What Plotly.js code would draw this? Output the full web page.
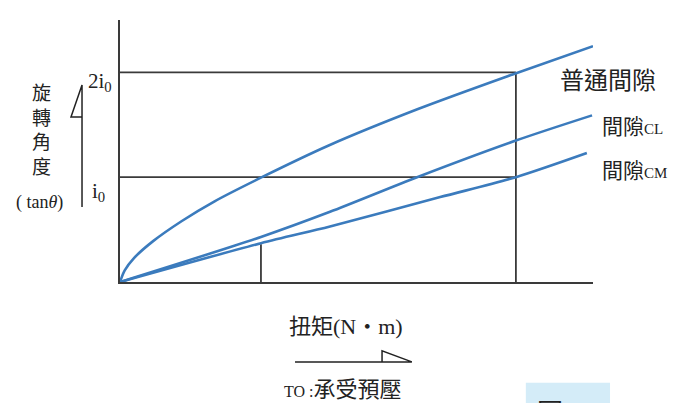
<!DOCTYPE html>
<html>
<head>
<meta charset="utf-8">
<script src="https://cdn.plot.ly/plotly-3.0.1.min.js"></script>
<style>html,body{margin:0;padding:0;background:#fff;}#chart{width:683px;height:403px;}</style>
</head>
<body>
<div id="chart"></div>
<script>
// Torque (arbitrary units) and rotation angle (units of i0)
const torqueNormal = [0, 0.1, 0.3, 0.7, 1.3, 2.0, 3.0, 4.4, 6.3, 8.3, 10.0];
const angleNormal  = [0, 0.11, 0.23, 0.39, 0.58, 0.77, 1.00, 1.30, 1.65, 1.98, 2.25];
const torqueCL = [0, 2.98, 4.44, 6.28, 8.37, 9.98];
const angleCL  = [0, 0.43, 0.67, 1.00, 1.35, 1.59];
const torqueCM = [0, 2.98, 4.44, 6.77, 8.37, 9.87];
const angleCM  = [0, 0.37, 0.53, 0.81, 1.00, 1.23];
const seriesNames = ['普通間隙', '間隙CL', '間隙CM'];
const refLevels = [1, 2];          // i0, 2i0
const refTorque = 8.37;            // torque at which CM reaches i0
const t0Torque = 2.98;             // TO : preload
const t0Angle = 0.36;

const curveColor = '#3b7bbd';
const lineColor = '#3a3a3a';

const traces = [
  {x: torqueNormal, y: angleNormal, name: seriesNames[0]},
  {x: torqueCL, y: angleCL, name: seriesNames[1]},
  {x: torqueCM, y: angleCM, name: seriesNames[2]}
].map(t => Object.assign(t, {mode: 'lines', line: {color: curveColor, width: 2.6, shape: 'spline', smoothing: 0.8}, hoverinfo: 'skip'}));

refLevels.forEach(l => traces.unshift({x: [0, refTorque], y: [l, l], mode: 'lines', line: {color: lineColor, width: 1.8}, hoverinfo: 'skip'}));
traces.unshift({x: [refTorque, refTorque], y: [0, Math.max(...refLevels)], mode: 'lines', line: {color: lineColor, width: 1.8}, hoverinfo: 'skip'});
traces.unshift({x: [t0Torque, t0Torque], y: [0, t0Angle], mode: 'lines', line: {color: lineColor, width: 1.8}, hoverinfo: 'skip'});

const cjk = '"Noto Sans CJK TC", "Noto Sans CJK JP", sans-serif';
const mixed = '"Liberation Serif", "Noto Sans CJK TC", serif';
const serif = '"Liberation Serif", "DejaVu Serif", serif';
const col = '#222';

const ann = (text, x, y, size, family, extra) => Object.assign({
  text: text, x: x, y: y, xref: 'paper', yref: 'paper', showarrow: false,
  font: {size: size, family: family, color: col}, xanchor: 'center', yanchor: 'middle'
}, extra || {});

const annotations = [
  ann('2i<sub>0</sub>', -0.042, 0.765, 21, serif),
  ann('i<sub>0</sub>', -0.046, 0.345, 21, serif),
  ann('旋<br>轉<br>角<br>度', -0.165, 0.585, 19, cjk),
  ann('( tan<i>θ</i>)', -0.171, 0.305, 18, serif),
  ann('扭矩(N・m)', 0.478, -0.168, 22, mixed),
  ann('<span style="font-size:16px">TO :</span>承受預壓', 0.471, -0.412, 22, mixed),
  ann(seriesNames[0], 1.032, 0.775, 24, cjk),
  ann('間隙<span style="font-size:15px;font-family:Liberation Serif">CL</span>', 1.015, 0.599, 21, cjk, {xanchor: 'left'}),
  ann('間隙<span style="font-size:15px;font-family:Liberation Serif">CM</span>', 1.015, 0.431, 21, cjk, {xanchor: 'left'}),
  ann('圖 1', 0.93, -0.49, 26, cjk)
];

const shapes = [
  // angle arrow beside y labels
  {type: 'path', xref: 'paper', yref: 'paper', path: 'M -0.0803 0.286 L -0.0803 0.752 L -0.1036 0.630 L -0.0803 0.630', line: {color: col, width: 1.5}},
  // torque arrow under x label
  {type: 'path', xref: 'paper', yref: 'paper', path: 'M 0.370 -0.305 L 0.617 -0.305 L 0.554 -0.263 L 0.554 -0.305', line: {color: col, width: 1.5}},
  // light blue figure box
  {type: 'rect', xref: 'paper', yref: 'paper', x0: 0.858, x1: 1.036, y0: -0.385, y1: -0.6, fillcolor: '#d4ecf8', line: {width: 0}, layer: 'below'}
];

const layout = {
  width: 683, height: 403,
  margin: {l: 120, r: 90, t: 20, b: 121},
  paper_bgcolor: '#fff', plot_bgcolor: '#fff',
  showlegend: false, hovermode: false,
  xaxis: {range: [0, 10], showgrid: false, zeroline: false, showticklabels: false, ticks: '',
          showline: true, linecolor: lineColor, linewidth: 2},
  yaxis: {range: [0, 2.5], showgrid: false, zeroline: false, showticklabels: false, ticks: '',
          showline: true, linecolor: lineColor, linewidth: 2},
  annotations: annotations,
  shapes: shapes
};

Plotly.newPlot('chart', traces, layout, {displayModeBar: false, staticPlot: true});
</script>
</body>
</html>
